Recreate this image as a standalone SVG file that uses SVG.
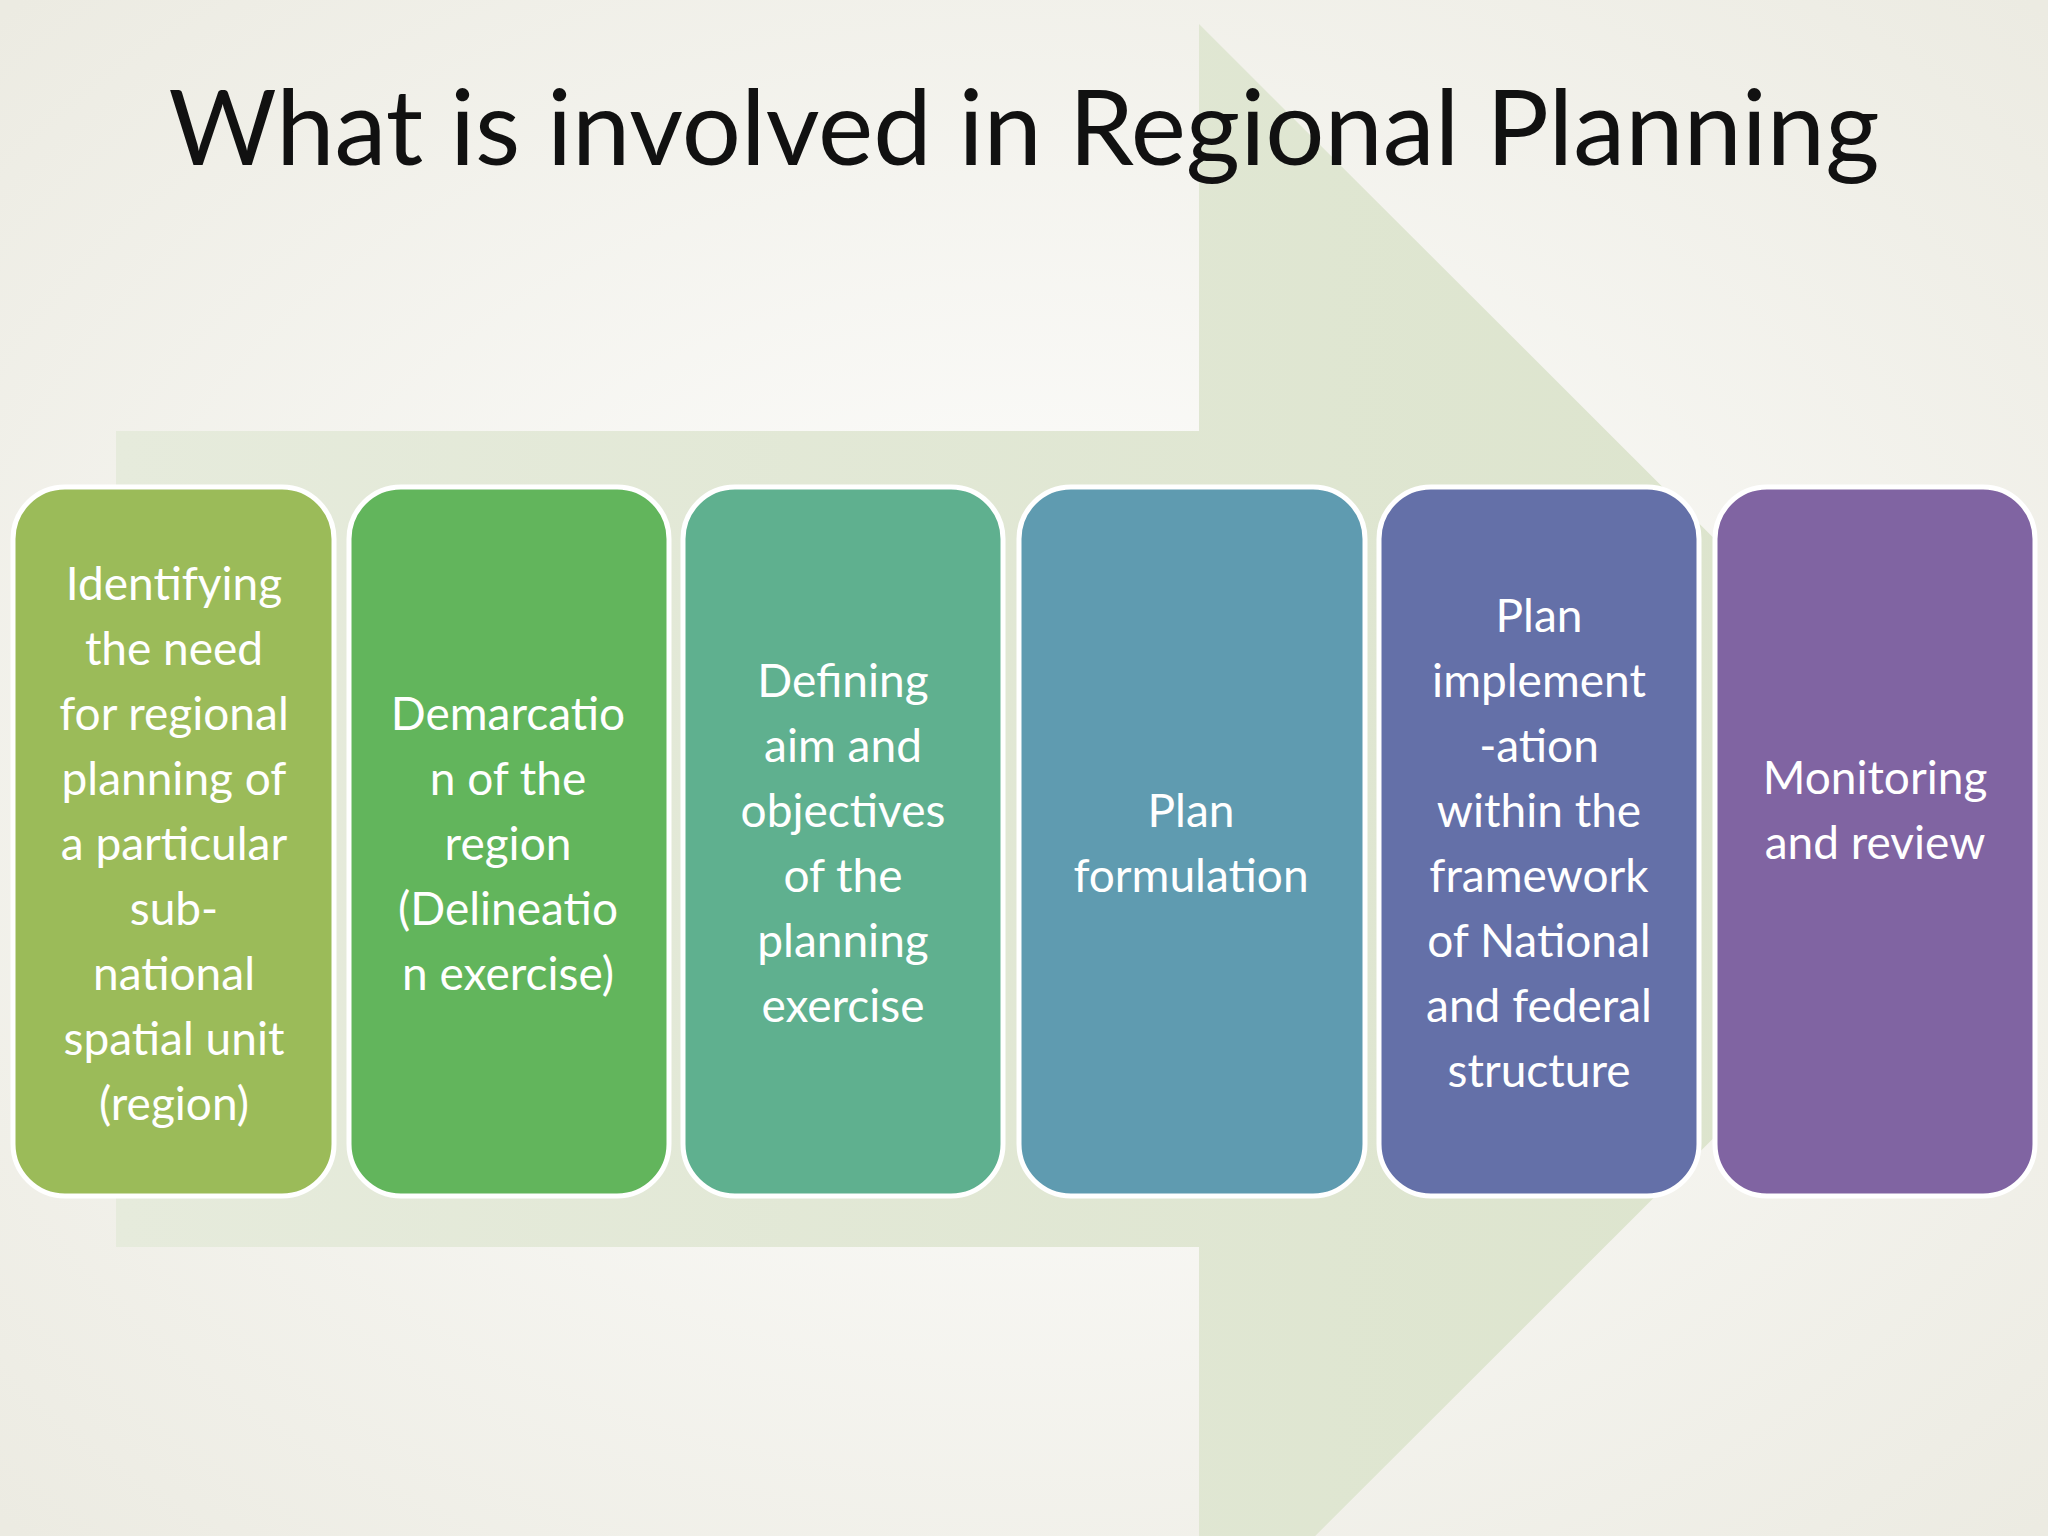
<svg xmlns="http://www.w3.org/2000/svg" width="2048" height="1536" viewBox="0 0 2048 1536">
<defs>
<radialGradient id="bg" cx="50%" cy="50%" r="70%"><stop offset="0" stop-color="#ffffff"/><stop offset="1" stop-color="#ecebe2"/></radialGradient>
<linearGradient id="arr" x1="0" y1="0" x2="1" y2="0"><stop offset="0" stop-color="#e6ebdc"/><stop offset="1" stop-color="#dbe3cb"/></linearGradient>
<style>
.box{stroke:#ffffff;stroke-width:5}
.t{font-family:Lato,"Open Sans","Liberation Sans",sans-serif;font-size:46px;fill:#ffffff;text-anchor:middle}
</style>
</defs>
<rect width="2048" height="1536" fill="url(#bg)"/>
<polygon points="116,431 1199,431 1199,24 2014,838 1199,1652 1199,1247 116,1247" fill="url(#arr)"/>
<text x="1024" y="165" font-family="Lato,'Open Sans','Liberation Sans',sans-serif" font-size="104" fill="#111" text-anchor="middle" textLength="1711" lengthAdjust="spacingAndGlyphs">What is involved in Regional Planning</text>
<g id="n1"><rect class="box" x="13" y="487" width="321" height="709" rx="52" fill="#9bbb59"/>
<text class="t" x="174" y="600"><tspan x="174">Identifying</tspan><tspan x="174" dy="65">the need</tspan><tspan x="174" dy="65">for regional</tspan><tspan x="174" dy="65">planning of</tspan><tspan x="174" dy="65">a particular</tspan><tspan x="174" dy="65">sub-</tspan><tspan x="174" dy="65">national</tspan><tspan x="174" dy="65">spatial unit</tspan><tspan x="174" dy="65">(region)</tspan></text></g>
<g id="n2"><rect class="box" x="349" y="487" width="320" height="709" rx="52" fill="#62b55c"/>
<text class="t" x="508" y="730"><tspan x="508">Demarcatio</tspan><tspan x="508" dy="65">n of the</tspan><tspan x="508" dy="65">region</tspan><tspan x="508" dy="65">(Delineatio</tspan><tspan x="508" dy="65">n exercise)</tspan></text></g>
<g id="n3"><rect class="box" x="683" y="487" width="320" height="709" rx="52" fill="#5fb08f"/>
<text class="t" x="843" y="697"><tspan x="843">Defining</tspan><tspan x="843" dy="65">aim and</tspan><tspan x="843" dy="65">objectives</tspan><tspan x="843" dy="65">of the</tspan><tspan x="843" dy="65">planning</tspan><tspan x="843" dy="65">exercise</tspan></text></g>
<g id="n4"><rect class="box" x="1019" y="487" width="346" height="709" rx="52" fill="#5f9bb0"/>
<text class="t" x="1191" y="827"><tspan x="1191">Plan</tspan><tspan x="1191" dy="65">formulation</tspan></text></g>
<g id="n5"><rect class="box" x="1379" y="487" width="320" height="709" rx="52" fill="#6470a8"/>
<text class="t" x="1539" y="632"><tspan x="1539">Plan</tspan><tspan x="1539" dy="65">implement</tspan><tspan x="1539" dy="65">-ation</tspan><tspan x="1539" dy="65">within the</tspan><tspan x="1539" dy="65">framework</tspan><tspan x="1539" dy="65">of National</tspan><tspan x="1539" dy="65">and federal</tspan><tspan x="1539" dy="65">structure</tspan></text></g>
<g id="n6"><rect class="box" x="1715" y="487" width="320" height="709" rx="52" fill="#8064a2"/>
<text class="t" x="1875" y="794"><tspan x="1875">Monitoring</tspan><tspan x="1875" dy="65">and review</tspan></text></g>
<g id="connectors"/>
</svg>
